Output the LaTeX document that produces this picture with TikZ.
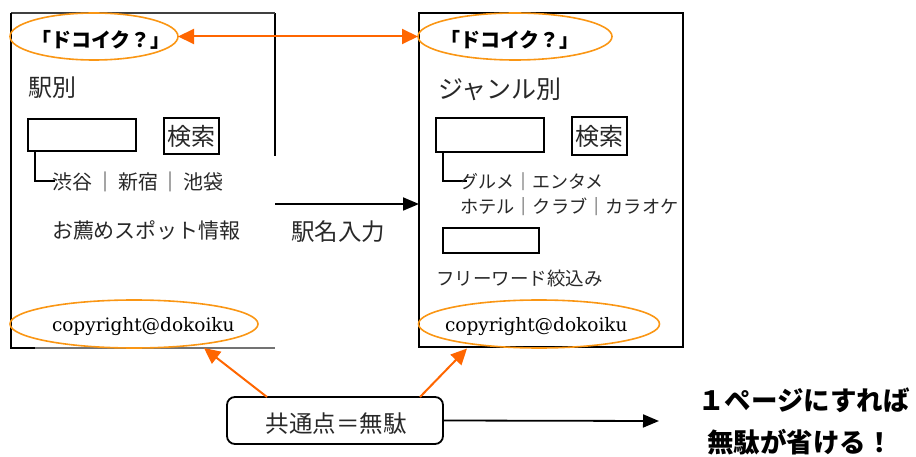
\documentclass[tikz,border=0pt]{standalone}
\usepackage{fontspec}
\usetikzlibrary{arrows.meta,shapes.geometric}
\newfontfamily\jp{Noto Sans CJK JP}
\newfontfamily\lat{DejaVu Serif}
\definecolor{ellorange}{RGB}{250,150,20}
\definecolor{arrorange}{RGB}{255,102,0}
\definecolor{txt}{RGB}{40,40,40}
\begin{document}
\begin{tikzpicture}[x=1pt,y=-1pt,
  every node/.style={inner sep=0pt,outer sep=0pt},
  ell/.style={draw=ellorange,line width=1.6pt,ellipse},
  inbox/.style={draw=black,line width=2pt},
  lbl/.style={text=txt,font=\jp\fontsize{#1}{#1}\selectfont},
  blbl/.style={text=black,font=\jp\bfseries\fontsize{#1}{#1}\selectfont},
  otip/.tip={Triangle[length=16pt,width=15pt]},
  ktip/.tip={Triangle[length=16pt,width=13pt]},
  oarrow/.style={draw=arrorange,line width=2pt,-otip},
  karrow/.style={draw=black,line width=1.8pt,-ktip},
  copy/.style={text=black,font=\lat\fontsize{18.5}{18.5}\selectfont}]
\useasboundingbox (0,0) rectangle (916,457);
% left panel
\draw[line width=1.8pt] (275,156) -- (275,13);
\draw[line width=1.5pt,black!75] (275,13) -- (11,13);
\draw[line width=1.8pt] (11,13) -- (11,348) -- (35,348);
\draw[line width=1.2pt,black!55] (35,348) -- (275,348);
% right panel
\node[draw,line width=1.8pt,minimum width=264,minimum height=334] (rp) at (551,180) {};
% top ellipses and titles
\node[ell,minimum width=168,minimum height=47] (tl) at (94,36.5) {};
\node[ell,minimum width=194,minimum height=47] (tr) at (515,36.5) {};
\node[blbl=20] (tlt) at (101,40) {「ドコイク？」};
\node[blbl=20] (trt) at (510,40) {「ドコイク？」};
\draw[oarrow,otip-otip] (tl.east) -- (tr.west);
% left content
\node[lbl=24,anchor=west] (ekibetsu) at (28,88) {駅別};
\node[inbox,minimum width=108,minimum height=32] (li) at (82,135) {};
\node[inbox,minimum width=55,minimum height=36,lbl=24] (ls) at (191.5,136) {検索};
\draw[line width=1.8pt] ([xshift=7pt]li.south west) -- ++(0,30) -- ++(20,0);
\node[lbl=20,anchor=west] (stations) at (52,182) {渋谷\hspace{3pt}｜\hspace{3pt}新宿\hspace{3pt}｜\hspace{3pt}池袋};
\node[lbl=21,anchor=west] (osusume) at (52,230) {お薦めスポット情報};
\node[ell,minimum width=248,minimum height=48] (bl) at (134,324) {};
\node[copy,anchor=west] (blt) at (52,327) {copyright@dokoiku};
% right content
\node[lbl=25,anchor=west] (genre) at (438,89) {ジャンル別};
\node[inbox,minimum width=108,minimum height=34] (ri) at (490,135) {};
\node[inbox,minimum width=55,minimum height=38,lbl=24] (rs) at (599.5,136) {検索};
\draw[line width=1.8pt] ([xshift=7pt]ri.south west) -- ++(0,29) -- ++(24,0);
\node[lbl=18,anchor=west] (g1) at (460,182) {グルメ｜エンタメ};
\node[lbl=18.2,anchor=west] (g2) at (460,207) {ホテル｜クラブ｜カラオケ};
\node[inbox,minimum width=96,minimum height=25] (fw) at (491,240.5) {};
\node[lbl=18.5,anchor=west] (fwt) at (436,278) {フリーワード絞込み};
\node[ell,minimum width=241,minimum height=48] (br) at (539,324) {};
\node[copy,anchor=west] (brt) at (445,327) {copyright@dokoiku};
% middle arrow
\coordinate (ma) at (275,204);
\draw[karrow] (ma) -- (ma -| rp.west);
\node[lbl=23.5] (ekimei) at (338,232) {駅名入力};
% bottom box
\node[draw,line width=1.8pt,rounded corners=8pt,minimum width=216,minimum height=47] (cb) at (335,420.5) {};
\node[lbl=23.5] (cbt) at (336,424) {共通点＝無駄};
\draw[oarrow] ([xshift=-68pt]cb.north) -- (bl.south -| 204,0);
\draw[oarrow] ([xshift=85pt]cb.north) -- (467,348.5);
\coordinate (end) at (659,421);
\draw[karrow] (cb.east) -- (end);
\node[blbl=26.5] (r1) at (804,400) {１ページにすれば};
\node[blbl=26.5] (r2) at (800,442) {無駄が省ける！};
\end{tikzpicture}
\end{document}
